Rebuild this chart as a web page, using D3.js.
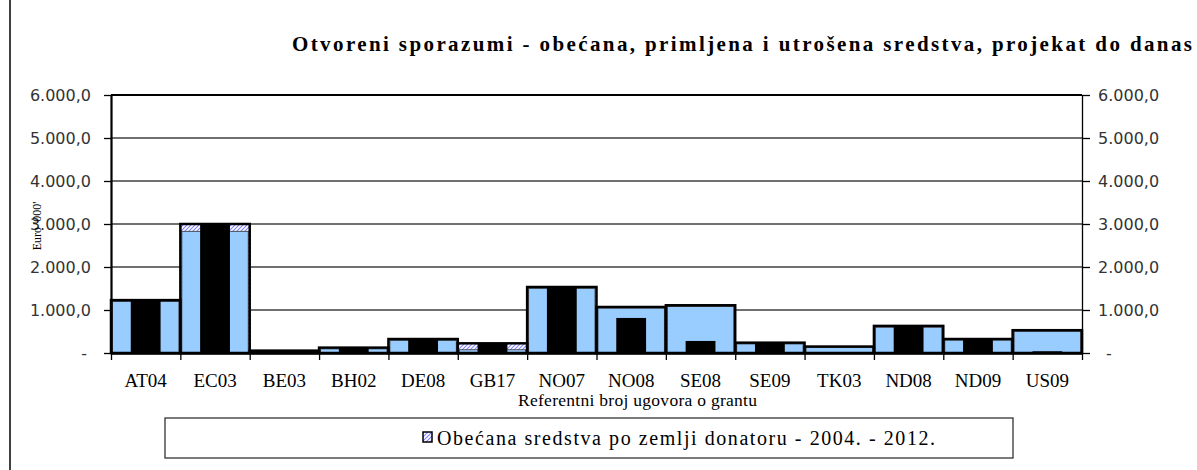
<!DOCTYPE html>
<html>
<head>
<meta charset="utf-8">
<script src="https://cdn.jsdelivr.net/npm/d3@7"></script>
<style>
  body { margin: 0; background: #fff; }
</style>
</head>
<body>
<svg id="graf" width="1197" height="470"></svg>
<script>
var kategorije = ["AT04", "EC03", "BE03", "BH02", "DE08", "GB17", "NO07", "NO08", "SE08", "SE09", "TK03", "ND08", "ND09", "US09"];
var obecana = [1230, 3000, 55, 125, 325, 225, 1535, 1070, 1110, 240, 150, 630, 325, 530];
var primljena = [1200, 2830, 0, 95, 295, 75, 1505, 1045, 1080, 210, 125, 600, 300, 505];
var utrosena = [1230, 3000, 50, 120, 320, 215, 1535, 815, 280, 240, 0, 630, 325, 40];
var yTicks = [0, 1000, 2000, 3000, 4000, 5000, 6000];

var marge = {haut: 95, droite: 115, bas: 117, gauche: 111};
var largeur = 1197, hauteur = 470;
var svg = d3.select("#graf");

var data = kategorije.map(function(k, i) {
    return {kat: k, obecana: obecana[i], primljena: primljena[i], utrosena: utrosena[i]};
});

var xScale = d3.scaleBand().domain(kategorije).range([marge.gauche, largeur - marge.droite]).padding(0);
var xIdx = d3.scaleLinear().domain([0, kategorije.length]).range([marge.gauche, largeur - marge.droite]);
var yScale = d3.scaleLinear().domain([0, 6000]).range([hauteur - marge.bas, marge.haut]);

var loc = d3.formatLocale({decimal: ",", thousands: ".", grouping: [3], currency: ["", ""]});
var fmt = loc.format(",.1f");
var tickFmt = function(d) { return d === 0 ? "-" : fmt(d); };

// hatch pattern for pledged funds
var defs = svg.append("defs");
var pat = defs.append("pattern")
    .attr("id", "hatch")
    .attr("patternUnits", "userSpaceOnUse")
    .attr("width", 4).attr("height", 4);
pat.append("rect").attr("width", 4).attr("height", 4).attr("fill", "#fff");
pat.append("path").attr("d", "M0,4 L4,0 M-1,1 L1,-1 M3,5 L5,3")
    .attr("stroke", "#8080ff").attr("stroke-width", 1.1);

// page border line on the left
svg.append("line")
    .attr("x1", 10).attr("x2", 10).attr("y1", 0).attr("y2", hauteur)
    .attr("stroke", "#000").attr("stroke-width", 1.5);

// grid
svg.append("g").selectAll("line")
    .data(yTicks.filter(function(d) { return d > 0 && d < 6000; }))
    .enter().append("line")
    .attr("x1", marge.gauche).attr("x2", largeur - marge.droite)
    .attr("y1", function(d) { return yScale(d); })
    .attr("y2", function(d) { return yScale(d); })
    .attr("stroke", "#404040").attr("stroke-width", 1.5);

// plot frame top
svg.append("line")
    .attr("x1", marge.gauche).attr("x2", largeur - marge.droite)
    .attr("y1", yScale(6000)).attr("y2", yScale(6000))
    .attr("stroke", "#000").attr("stroke-width", 2);

var bw = xScale.bandwidth();

// pledged (hatched)
svg.append("g").selectAll("rect")
    .data(data).enter().append("rect")
    .attr("x", function(d) { return xScale(d.kat); })
    .attr("width", bw)
    .attr("y", function(d) { return yScale(d.obecana); })
    .attr("height", function(d) { return yScale(0) - yScale(d.obecana); })
    .attr("fill", "url(#hatch)");

// received (light blue)
svg.append("g").selectAll("rect")
    .data(data).enter().append("rect")
    .attr("x", function(d) { return xScale(d.kat) + 1.5; })
    .attr("width", bw - 3)
    .attr("y", function(d) { return yScale(d.primljena); })
    .attr("height", function(d) { return yScale(0) - yScale(d.primljena); })
    .attr("fill", "#99ccff")
    .attr("stroke", "#333").attr("stroke-width", 0.8);

// spent (black, narrow)
var sw = bw * 0.43;
svg.append("g").selectAll("rect")
    .data(data).enter().append("rect")
    .attr("x", function(d) { return xScale(d.kat) + (bw - sw) / 2; })
    .attr("width", sw)
    .attr("y", function(d) { return yScale(d.utrosena); })
    .attr("height", function(d) { return yScale(0) - yScale(d.utrosena); })
    .attr("fill", "#000");

// pledged outline on top
svg.append("g").selectAll("rect")
    .data(data).enter().append("rect")
    .attr("x", function(d) { return xScale(d.kat); })
    .attr("width", bw)
    .attr("y", function(d) { return yScale(d.obecana); })
    .attr("height", function(d) { return yScale(0) - yScale(d.obecana); })
    .attr("fill", "none")
    .attr("stroke", "#000").attr("stroke-width", 2.5);

// axes
var yAxisL = g => g
    .attr("transform", `translate(${marge.gauche},0)`)
    .call(d3.axisLeft(yScale).tickValues(yTicks).tickFormat(tickFmt).tickSize(7).tickSizeOuter(0).tickPadding(13));
var yAxisR = g => g
    .attr("transform", `translate(${largeur - marge.droite},0)`)
    .call(d3.axisRight(yScale).tickValues(yTicks).tickFormat(tickFmt).tickSize(8).tickSizeOuter(0).tickPadding(8));
var xTicksAxis = g => g
    .attr("transform", `translate(0,${yScale(0)})`)
    .call(d3.axisBottom(xIdx).tickValues(d3.range(kategorije.length + 1)).tickFormat("").tickSize(7).tickSizeOuter(0));
var xLabAxis = g => g
    .attr("transform", `translate(0,${yScale(0)})`)
    .call(d3.axisBottom(xScale).tickSize(0).tickPadding(21));

var gl = svg.append("g").call(yAxisL);
var gr = svg.append("g").call(yAxisR);
var gx = svg.append("g").call(xTicksAxis);
var gxl = svg.append("g").call(xLabAxis);

gl.select(".domain").attr("stroke-width", 2.2);
gr.select(".domain").attr("stroke-width", 1.3);
gx.select(".domain").attr("stroke-width", 2.5);
gxl.select(".domain").remove();
[gl, gr].forEach(function(g) {
    g.selectAll("text")
        .style("font-family", "DejaVu Sans").style("font-size", "16px").attr("fill", "#333");
    g.selectAll("line").attr("stroke", "#000").attr("stroke-width", 1.3);
});
gl.selectAll(".tick").filter(function(d) { return d === 0; }).select("text").attr("dx", -4);
gr.selectAll(".tick").filter(function(d) { return d === 0; }).select("text").attr("dx", 8);
gx.selectAll("line").attr("stroke-width", 1.3);
gxl.selectAll("text")
    .style("font-family", "Liberation Serif").style("font-size", "19px").attr("fill", "#000");

// title
svg.append("text")
    .attr("x", 292).attr("y", 51)
    .attr("textLength", 900).attr("lengthAdjust", "spacing")
    .style("font-family", "Liberation Serif").style("font-weight", "bold").style("font-size", "21px")
    .text("Otvoreni sporazumi - obećana, primljena i utrošena sredstva, projekat do danas");

// axis titles
svg.append("text")
    .attr("x", 518).attr("y", 406)
    .attr("textLength", 239).attr("lengthAdjust", "spacing")
    .style("font-family", "Liberation Serif").style("font-size", "17.5px")
    .text("Referentni broj ugovora o grantu");

svg.append("text")
    .attr("transform", "translate(41,226) rotate(-90)")
    .style("text-anchor", "middle")
    .style("font-family", "Liberation Serif").style("font-size", "12px")
    .text("Euro '000'");

// legend
svg.append("rect")
    .attr("x", 165).attr("y", 418).attr("width", 848).attr("height", 40)
    .attr("fill", "#fff").attr("stroke", "#333").attr("stroke-width", 1.3);
svg.append("rect")
    .attr("x", 423).attr("y", 432).attr("width", 9).attr("height", 10)
    .attr("fill", "url(#hatch)").attr("stroke", "#000").attr("stroke-width", 1.5);
svg.append("text")
    .attr("x", 437).attr("y", 445)
    .attr("textLength", 498).attr("lengthAdjust", "spacing")
    .style("font-family", "Liberation Serif").style("font-size", "20px")
    .text("Obećana sredstva po zemlji donatoru - 2004. - 2012.");
</script>
</body>
</html>
